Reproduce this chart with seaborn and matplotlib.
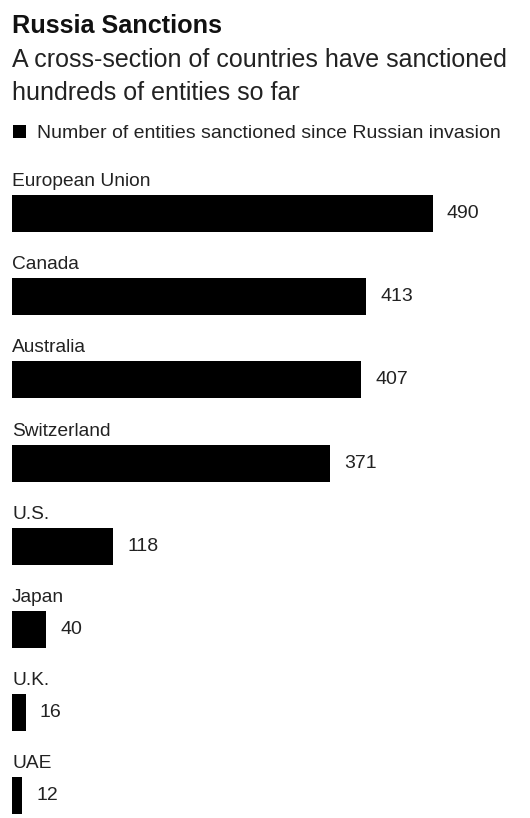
import matplotlib
matplotlib.use("Agg")
import matplotlib.pyplot as plt
import seaborn as sns
import pandas as pd
from matplotlib.patches import Rectangle

countries = ["European Union", "Canada", "Australia", "Switzerland", "U.S.", "Japan", "U.K.", "UAE"]
entities = [490, 413, 407, 371, 118, 40, 16, 12]
title = "Russia Sanctions"
subtitle = "A cross-section of countries have sanctioned\nhundreds of entities so far"
legend_label = "Number of entities sanctioned since Russian invasion"

sns.set_theme(style="white")
plt.rcParams["font.family"] = ["Liberation Sans", "DejaVu Sans"]

W, H = 530, 818
fig = plt.figure(figsize=(W / 100, H / 100), dpi=100)
fig.patch.set_facecolor("white")

def fx(px):
    return px / W

def fy(py):
    return 1 - py / H

# axes placement in pixels
ax_left, ax_top, ax_bottom = 12, 150, 818
ax = fig.add_axes([fx(ax_left), fy(ax_bottom), 515 / W, (ax_bottom - ax_top) / H])

df = pd.DataFrame({"country": countries, "entities": entities})
sns.barplot(data=df, x="entities", y="country", order=countries, color="black",
            saturation=1, width=0.444, ax=ax, orient="h")
for p in ax.patches:
    p.set_edgecolor("none")

ax.set_xlim(0, 600)
spacing = 83.2
c0 = 213.5
ax.set_ylim(7 + (ax_bottom - (c0 + 7 * spacing)) / spacing, -(c0 - ax_top) / spacing)
ax.axis("off")

for i, (c, v) in enumerate(zip(countries, entities)):
    ax.text(0, i - 0.33, c, ha="left", va="baseline", fontsize=13.8, color="#222222")
    ax.annotate(str(v), xy=(v, i), xytext=(10.1, 0), textcoords="offset points",
                ha="left", va="center", fontsize=14, color="#222222")

fig.text(fx(12), fy(33), title, ha="left", va="baseline", fontsize=18.2,
         fontweight="bold", color="#111111")
fig.text(fx(12), fy(67), subtitle.split("\n")[0], ha="left", va="baseline",
         fontsize=18, color="#222222")
fig.text(fx(12), fy(100), subtitle.split("\n")[1], ha="left", va="baseline",
         fontsize=18, color="#222222")

fig.patches.append(Rectangle((fx(13), fy(138)), 13 / W, 13 / H, transform=fig.transFigure,
                             facecolor="black", edgecolor="none"))
fig.text(fx(37), fy(138), legend_label, ha="left", va="baseline", fontsize=14,
         color="#222222")

fig.savefig("out.png", dpi=100, facecolor="white")
